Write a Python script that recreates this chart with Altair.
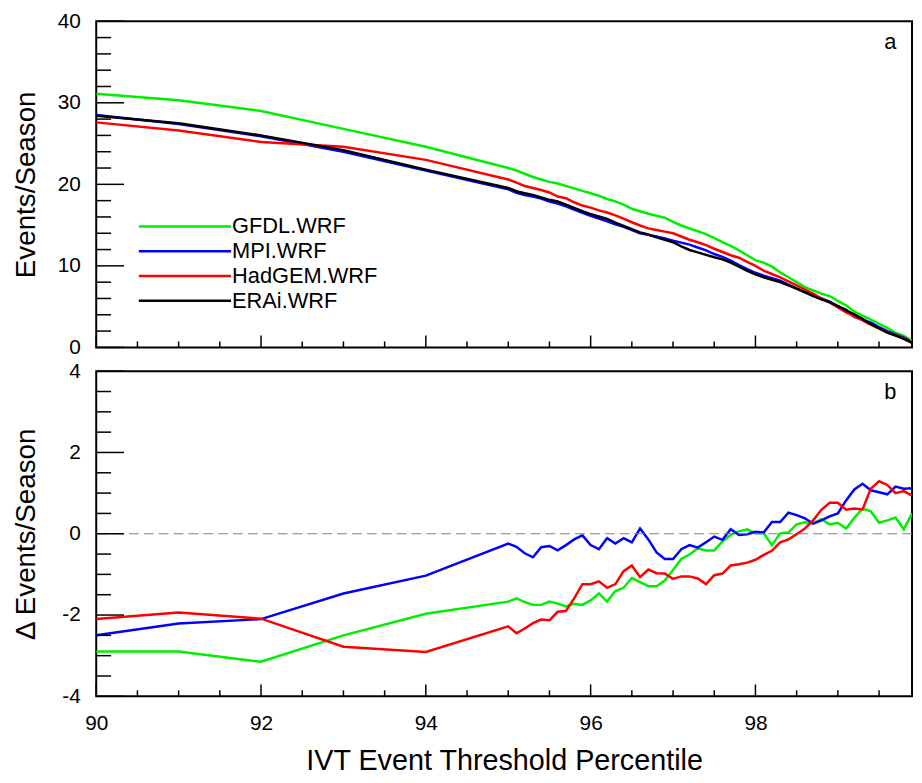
import altair as alt
import pandas as pd

# ---------------- data ----------------
percentile = [90, 91, 92, 93, 94,
              95.0, 95.1, 95.2, 95.3, 95.4, 95.5, 95.6, 95.7, 95.8, 95.9,
              96.0, 96.1, 96.2, 96.3, 96.4, 96.5, 96.6, 96.7, 96.8, 96.9,
              97.0, 97.1, 97.2, 97.3, 97.4, 97.5, 97.6, 97.7, 97.8, 97.9,
              98.0, 98.1, 98.2, 98.3, 98.4, 98.5, 98.6, 98.7, 98.8, 98.9,
              99.0, 99.1, 99.2, 99.3, 99.4, 99.5, 99.6, 99.7, 99.8, 99.9]

series_names = ["GFDL.WRF", "MPI.WRF", "HadGEM.WRF", "ERAi.WRF"]
series_colors = ["#00ee00", "#0000ff", "#ff0000", "#000000"]
legend_rank = [0, 1, 2, 3]

# panel a: events per season
events_gfdl = [31.1, 30.3, 29.0, 26.8, 24.6,
               22.0, 21.7, 21.3, 20.9, 20.6, 20.3, 20.1, 19.8, 19.5, 19.2,
               18.9, 18.6, 18.2, 17.9, 17.5, 17.0, 16.7, 16.4, 16.15, 15.9,
               15.4, 14.95, 14.6, 14.25, 13.9, 13.4, 12.9, 12.45, 11.9, 11.3,
               10.7, 10.4, 9.9, 9.2, 8.6, 8.0, 7.4, 7.0, 6.6, 6.3,
               5.7, 5.15, 4.4, 3.9, 3.4, 2.9, 2.4, 1.8, 1.4, 0.8]
events_mpi = [28.5, 27.4, 25.9, 24.0, 21.7,
              19.4, 18.95, 18.7, 18.5, 18.25, 17.9, 17.65, 17.3, 16.9, 16.5,
              16.15, 15.8, 15.45, 15.1, 14.8, 14.4, 14.0, 13.8, 13.6, 13.35,
              13.1, 12.85, 12.6, 12.25, 11.9, 11.45, 11.1, 10.65, 10.1, 9.6,
              9.15, 8.8, 8.5, 8.2, 7.7, 7.2, 6.8, 6.4, 6.0, 5.6,
              5.05, 4.6, 3.75, 3.4, 3.05, 2.5, 2.0, 1.6, 1.2, 0.65]
events_hadgem = [27.6, 26.6, 25.2, 24.6, 23.0,
                 20.6, 20.2, 19.8, 19.55, 19.3, 19.0, 18.5, 18.3, 17.8, 17.4,
                 17.15, 16.8, 16.55, 16.2, 15.8, 15.35, 14.95, 14.6, 14.4, 14.2,
                 14.0, 13.6, 13.2, 12.9, 12.55, 12.1, 11.7, 11.3, 11.0, 10.5,
                 10.0, 9.4, 9.0, 8.6, 8.1, 7.6, 7.1, 6.6, 6.0, 5.5,
                 4.9, 4.3, 3.8, 3.3, 2.8, 2.3, 1.85, 1.5, 1.1, 0.65]
events_erai = [28.4, 27.5, 26.0, 24.2, 21.8,
               19.55, 19.15, 18.9, 18.7, 18.4, 18.1, 17.9, 17.5, 17.1, 16.7,
               16.35, 16.05, 15.75, 15.3, 14.9, 14.5, 14.1, 13.85, 13.5, 13.2,
               12.9, 12.4, 11.95, 11.65, 11.35, 11.05, 10.8, 10.4, 9.9, 9.4,
               8.95, 8.6, 8.3, 8.0, 7.6, 7.2, 6.75, 6.3, 5.9, 5.55,
               5.05, 4.55, 4.05, 3.5, 2.85, 2.35, 1.8, 1.45, 1.05, 0.55]

# panel b: change in events per season
delta_gfdl = [-2.90, -2.90, -3.15, -2.50, -1.97,
              -1.67, -1.59, -1.68, -1.75, -1.75, -1.67, -1.72, -1.79, -1.72, -1.75,
              -1.64, -1.47, -1.67, -1.41, -1.33, -1.09, -1.19, -1.29, -1.29, -1.15,
              -0.89, -0.62, -0.51, -0.36, -0.41, -0.41, -0.19, -0.03, 0.06, 0.11,
              0.01, 0.01, -0.28, 0.01, 0.03, 0.23, 0.28, 0.25, 0.36, 0.23,
              0.27, 0.13, 0.39, 0.62, 0.55, 0.27, 0.33, 0.40, 0.11, 0.50]
delta_mpi = [-2.50, -2.21, -2.10, -1.47, -1.03,
             -0.24, -0.32, -0.48, -0.58, -0.33, -0.30, -0.41, -0.28, -0.14, -0.04,
             -0.28, -0.38, -0.11, -0.24, -0.11, -0.21, 0.13, -0.14, -0.46, -0.62,
             -0.62, -0.38, -0.28, -0.34, -0.21, -0.07, -0.15, 0.11, -0.03, -0.01,
             0.05, 0.03, 0.29, 0.29, 0.52, 0.46, 0.38, 0.25, 0.33, 0.43,
             0.50, 0.82, 1.09, 1.23, 1.07, 1.02, 0.97, 1.16, 1.11, 1.12]
delta_hadgem = [-2.10, -1.94, -2.09, -2.78, -2.91,
                -2.28, -2.45, -2.33, -2.20, -2.11, -2.13, -1.92, -1.90, -1.59, -1.24,
                -1.24, -1.17, -1.33, -1.24, -0.92, -0.78, -1.07, -0.88, -0.97, -0.98,
                -1.11, -1.05, -1.05, -1.10, -1.24, -1.02, -0.98, -0.78, -0.75, -0.71,
                -0.64, -0.52, -0.42, -0.21, -0.14, -0.01, 0.13, 0.33, 0.59, 0.76,
                0.76, 0.59, 0.62, 0.60, 1.11, 1.29, 1.20, 1.00, 1.05, 0.94]

# axis tick positions
x_major = [90, 92, 94, 96, 98]
x_minor = [90.5, 91, 91.5, 92.5, 93, 93.5, 94.5, 95, 95.5, 96.5, 97, 97.5, 98.5, 99, 99.5]
ya_major = [0, 10, 20, 30, 40]
ya_minor = [2, 4, 6, 8, 12, 14, 16, 18, 22, 24, 26, 28, 32, 34, 36, 38]
yb_major = [-4, -2, 0, 2, 4]
yb_minor = [-3.5, -3, -2.5, -1.5, -1, -0.5, 0.5, 1, 1.5, 2.5, 3, 3.5]

# ---------------- layout ----------------
W, H1, H2 = 823, 329, 328
FONT = "Liberation Sans"
X_DOMAIN = [90, 99.9]
HYPHEN = "datum.value < 0 ? '-' + abs(datum.value) : '' + datum.value"

top_df = pd.DataFrame({
    "pct": percentile * 4,
    "val": events_gfdl + events_mpi + events_hadgem + events_erai,
    "model": sum([[n] * len(percentile) for n in series_names], []),
})
bot_names = series_names[:3]
bot_df = pd.DataFrame({
    "pct": percentile * 3,
    "val": delta_gfdl + delta_mpi + delta_hadgem,
    "model": sum([[n] * len(percentile) for n in bot_names], []),
})
legend_df = pd.DataFrame({"model": series_names, "rank": legend_rank})

xscale = alt.Scale(domain=X_DOMAIN, nice=False, zero=False)
color_a = alt.Scale(domain=series_names, range=series_colors)
color_b = alt.Scale(domain=bot_names, range=series_colors[:3])


def tick_layers(height, yscale, y_major, y_minor, no_axes):
    layers = []
    for vals, ln in ((x_major, 12), (x_minor, 6)):
        xenc = alt.X("t:Q", scale=xscale, axis=None) if no_axes else alt.X("t:Q", scale=xscale)
        layers.append(
            alt.Chart(pd.DataFrame({"t": vals})).mark_rule(color="black", strokeWidth=1.5).encode(
                x=xenc, y=alt.value(height), y2=alt.value(height - ln)))
    for vals, ln in ((y_major, 28), (y_minor, 15)):
        yenc = alt.Y("t:Q", scale=yscale, axis=None) if no_axes else alt.Y("t:Q", scale=yscale)
        layers.append(
            alt.Chart(pd.DataFrame({"t": vals})).mark_rule(color="black", strokeWidth=1.5).encode(
                y=yenc, x=alt.value(0), x2=alt.value(ln)))
    return layers


# ---- panel a ----
ya_scale = alt.Scale(domain=[0, 40], nice=False, zero=False)
top_lines = alt.Chart(top_df).mark_line(strokeWidth=2.5, clip=True).encode(
    x=alt.X("pct:Q", scale=xscale, axis=None),
    y=alt.Y("val:Q", scale=ya_scale,
            axis=alt.Axis(values=ya_major, ticks=False, domain=False, grid=False,
                          labelFontSize=21, labelPadding=16,
                          title="Events/Season", titleFontSize=28,
                          titleX=-56, titleY=H1 / 2, titleAngle=270,
                          titleAlign="center", titleBaseline="bottom")),
    color=alt.Color("model:N", scale=color_a, legend=None),
)
leg_y = alt.Y("rank:Q", scale=alt.Scale(domain=[0, 3], range=[207, 282]), axis=None)
leg_lines = alt.Chart(legend_df).mark_rule(strokeWidth=2.5).encode(
    y=leg_y, x=alt.value(43), x2=alt.value(136),
    color=alt.Color("model:N", scale=color_a, legend=None))
leg_text = alt.Chart(legend_df).mark_text(
    font=FONT, fontSize=22, align="left", baseline="middle", color="black").encode(
    y=leg_y, x=alt.value(137), text="model:N")
label_a = alt.Chart(pd.DataFrame({"t": ["a"]})).mark_text(
    font=FONT, fontSize=22, align="center", baseline="alphabetic", color="black").encode(
    text="t:N", x=alt.value(W - 22), y=alt.value(28))

top = alt.layer(top_lines, *tick_layers(H1, ya_scale, ya_major, ya_minor, True),
                leg_lines, leg_text, label_a).resolve_scale(y="independent").properties(
    width=W, height=H1)

# ---- panel b ----
yb_scale = alt.Scale(domain=[-4, 4], nice=False, zero=False)
bot_lines = alt.Chart(bot_df).mark_line(strokeWidth=2.5, clip=True).encode(
    x=alt.X("pct:Q", scale=xscale,
            axis=alt.Axis(values=x_major, ticks=False, domain=False, grid=False,
                          labelFontSize=21, labelPadding=16, labelFlush=False,
                          labelExpr=HYPHEN,
                          title="IVT Event Threshold Percentile", titleFontSize=29,
                          titlePadding=14)),
    y=alt.Y("val:Q", scale=yb_scale,
            axis=alt.Axis(values=yb_major, ticks=False, domain=False, grid=False,
                          labelFontSize=21, labelPadding=16, labelExpr=HYPHEN,
                          title="Δ Events/Season", titleFontSize=28,
                          titleX=-56, titleY=H2 / 2, titleAngle=270,
                          titleAlign="center", titleBaseline="bottom")),
    color=alt.Color("model:N", scale=color_b, legend=None),
)
zero_line = alt.Chart(pd.DataFrame({"z": [0]})).mark_rule(
    color="#808080", strokeWidth=1.2, strokeDash=[10, 5]).encode(
    y=alt.Y("z:Q", scale=yb_scale))
label_b = alt.Chart(pd.DataFrame({"t": ["b"]})).mark_text(
    font=FONT, fontSize=22, align="center", baseline="alphabetic", color="black").encode(
    text="t:N", x=alt.value(W - 22), y=alt.value(28))

bottom = alt.layer(bot_lines, zero_line, *tick_layers(H2, yb_scale, yb_major, yb_minor, False),
                   label_b).properties(width=W, height=H2)

chart = alt.vconcat(top, bottom, spacing=24).resolve_scale(
    color="independent").properties(
    bounds="flush",
    padding={"left": 4, "top": -2, "right": 0, "bottom": -4},
    background="white",
).configure_view(
    stroke="black", strokeWidth=2
).configure_axis(
    labelFont=FONT, titleFont=FONT, labelColor="black", titleColor="black",
    titleFontWeight="normal"
).configure_text(font=FONT)

chart.save("out.html", embed_options={"renderer": "svg", "actions": False})
